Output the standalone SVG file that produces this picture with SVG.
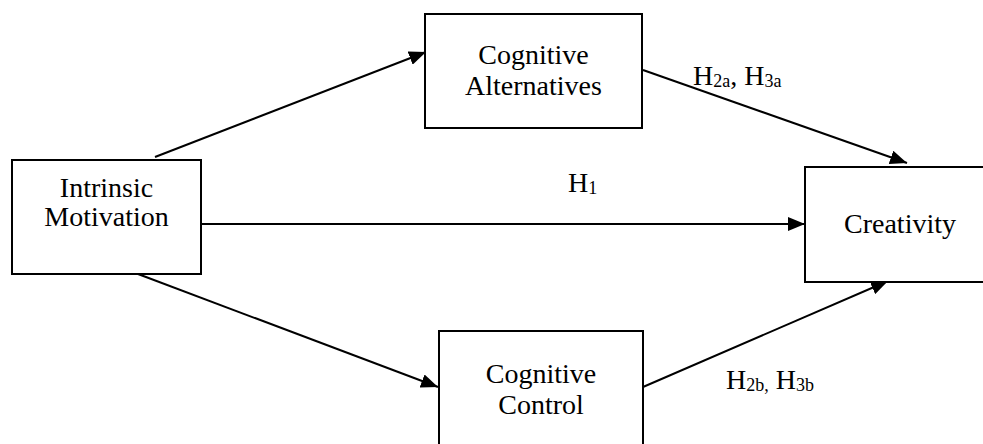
<svg xmlns="http://www.w3.org/2000/svg" width="983" height="444" viewBox="0 0 983 444">
<style>
.box{fill:#fff;stroke:#000;stroke-width:2}
.t{font-family:"Liberation Serif","Times New Roman",serif;font-size:28px;fill:#000}
.mid{text-anchor:middle}
.sub{font-size:18px}
.c{stroke:#000;stroke-width:2;fill:none;marker-end:url(#ah)}
</style>
<defs>
<marker id="ah" markerUnits="userSpaceOnUse" markerWidth="18" markerHeight="14" refX="17" refY="7" orient="auto">
<path d="M0,0 L17,7 L0,14 z" fill="#000"/>
</marker>
</defs>
<rect width="983" height="444" fill="#fff"/>
<g id="connectors">
<line class="c" x1="155" y1="157" x2="426" y2="52"/>
<line class="c" x1="643" y1="70" x2="907" y2="163"/>
<line class="c" x1="201" y1="224" x2="805" y2="224"/>
<line class="c" x1="138" y1="274" x2="438" y2="387"/>
<line class="c" x1="643" y1="387" x2="888" y2="281"/>
</g>
<g id="intrinsic-motivation">
<rect class="box" x="12" y="160" width="189" height="114"/>
<text class="t mid" x="106.5" y="197">Intrinsic</text>
<text class="t mid" x="106.5" y="226">Motivation</text>
</g>
<g id="cognitive-alternatives">
<rect class="box" x="425" y="14" width="217" height="114"/>
<text class="t mid" x="533.5" y="64">Cognitive</text>
<text class="t mid" x="533.5" y="95">Alternatives</text>
</g>
<g id="cognitive-control">
<rect class="box" x="439" y="331" width="204" height="130"/>
<text class="t mid" x="541" y="383">Cognitive</text>
<text class="t mid" x="541" y="414">Control</text>
</g>
<g id="creativity">
<rect class="box" x="805" y="167" width="190" height="115"/>
<text class="t mid" x="900" y="233">Creativity</text>
</g>
<g id="labels">
<text class="t" x="568" y="192">H<tspan class="sub" dy="2">1</tspan></text>
<text class="t" x="693" y="85">H<tspan class="sub" dy="2">2a</tspan><tspan dy="-2">, H</tspan><tspan class="sub" dy="2">3a</tspan></text>
<text class="t" x="726" y="389">H<tspan class="sub" dy="2">2b,</tspan><tspan dy="-2"> H</tspan><tspan class="sub" dy="2">3b</tspan></text>
</g>
</svg>
